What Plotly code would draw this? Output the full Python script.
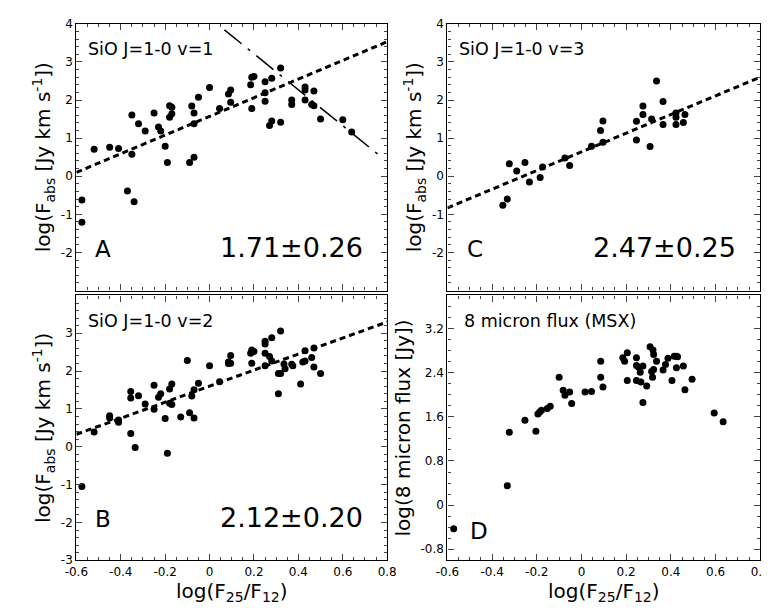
import plotly.graph_objects as go

ax_x = [-0.575,-0.575,-0.52,-0.45,-0.41,-0.35,-0.35,-0.37,-0.34,-0.32,-0.29,-0.25,-0.23,-0.22,-0.20,-0.19,-0.18,-0.18,-0.17,-0.17,
        -0.09,-0.07,-0.08,-0.07,-0.07,-0.05,0.0,0.045,0.085,0.095,0.095,0.185,0.19,0.20,0.19,0.25,0.25,0.25,0.28,0.28,0.27,0.32,0.32,
        0.37,0.37,0.43,0.43,0.43,0.46,0.47,0.47,0.50,0.60,0.64]
ay = [-0.62,-1.21,0.71,0.76,0.73,1.61,0.58,-0.39,-0.67,1.38,1.19,1.66,1.29,1.19,0.79,0.36,1.85,1.55,1.64,1.81,
      0.36,0.50,1.84,1.66,1.38,2.07,2.33,1.78,2.16,2.26,1.94,2.40,2.60,2.62,1.78,2.48,2.19,1.97,2.57,1.45,1.33,1.42,2.84,
      2.0,1.88,2.34,2.26,2.0,1.88,2.24,1.85,1.50,1.48,1.16]
a_fit_x = [-0.6, 0.8]; a_fit_y = [0.10, 3.53]
a_dash_x = [0.067, 0.762]; a_dash_y = [3.84, 0.56]

bx = [-0.575,-0.52,-0.45,-0.45,-0.41,-0.41,-0.355,-0.355,-0.355,-0.335,-0.32,-0.29,-0.25,-0.25,-0.23,-0.22,-0.2,-0.19,-0.18,-0.18,-0.17,-0.17,
      -0.13,-0.10,-0.09,-0.08,-0.07,-0.07,-0.05,0.0,0.045,0.085,0.085,0.095,0.095,0.185,0.19,0.20,0.19,0.25,0.25,0.25,0.25,0.28,0.27,0.28,
      0.31,0.32,0.31,0.32,0.335,0.34,0.37,0.375,0.41,0.42,0.43,0.43,0.46,0.47,0.47,0.50]
by = [-1.05,0.39,0.82,0.76,0.65,0.71,1.46,1.29,0.35,-0.02,1.35,1.13,1.63,0.99,1.31,1.40,0.75,-0.17,1.15,1.53,1.66,1.12,
      0.79,2.28,0.90,1.34,1.51,0.76,1.68,2.14,1.72,2.2,2.24,2.21,2.41,2.47,2.56,2.52,2.21,2.47,2.79,2.72,2.14,2.88,2.39,2.27,
      1.94,1.94,1.40,3.06,2.19,2.06,2.18,2.14,1.66,2.24,2.27,2.54,2.36,2.61,2.11,1.94]
b_fit_x = [-0.6, 0.8]; b_fit_y = [0.33, 3.30]

cx = [-0.352,-0.332,-0.323,-0.29,-0.253,-0.233,-0.185,-0.174,-0.074,-0.053,0.045,0.085,0.096,0.096,
      0.246,0.246,0.275,0.275,0.307,0.314,0.336,0.365,0.365,0.423,0.423,0.423,0.456,0.463]
cy = [-0.76,-0.60,0.33,0.14,0.36,-0.15,-0.03,0.24,0.48,0.28,0.79,1.20,1.45,0.89,
      0.95,1.44,1.84,1.62,0.78,1.50,2.50,1.96,1.36,1.66,1.55,1.36,1.41,1.62]
c_fit_x = [-0.6, 0.8]; c_fit_y = [-0.83, 2.60]

dx = [-0.572,-0.332,-0.323,-0.253,-0.204,-0.195,-0.187,-0.179,-0.153,-0.14,-0.10,-0.082,-0.074,-0.053,-0.044,
      0.016,0.045,0.086,0.086,0.096,0.185,0.193,0.205,0.205,0.246,0.246,0.246,0.256,0.263,0.266,0.275,0.275,0.292,
      0.307,0.314,0.318,0.32,0.323,0.323,0.336,0.365,0.376,0.387,0.405,0.415,0.425,0.425,0.43,0.456,0.463,0.495,0.594,0.634]
dy = [-0.43,0.35,1.32,1.54,1.34,1.65,1.69,1.72,1.75,1.79,2.32,2.08,1.99,2.05,1.84,
      2.05,2.06,2.32,2.61,2.14,2.67,2.61,2.76,2.26,2.67,2.53,2.26,2.50,2.41,2.23,2.52,1.86,2.16,
      2.87,2.42,2.32,2.81,2.73,2.46,2.61,2.45,2.55,2.66,2.26,2.70,2.70,2.49,2.69,2.52,2.09,2.28,1.67,1.51]

xticks = [-0.6,-0.4,-0.2,0,0.2,0.4,0.6,0.8]
xtick_text = ["-0.6","-0.4","-0.2","0","0.2","0.4","0.6","0.8"]

FONT = "DejaVu Sans"
fig = go.Figure()
mk = dict(color="black", size=7)
panels = [("x","y",ax_x,ay),("x2","y2",bx,by),("x3","y3",cx,cy),("x4","y4",dx,dy)]
for xa, ya, X, Y in panels:
    fig.add_trace(go.Scatter(x=X, y=Y, mode="markers", marker=mk, xaxis=xa, yaxis=ya, showlegend=False))
for xa, ya, FX, FY in [("x","y",a_fit_x,a_fit_y),("x2","y2",b_fit_x,b_fit_y),("x3","y3",c_fit_x,c_fit_y)]:
    fig.add_trace(go.Scatter(x=FX, y=FY, mode="lines", line=dict(color="black", width=3, dash="6px,4px"),
                             xaxis=xa, yaxis=ya, showlegend=False))
fig.add_trace(go.Scatter(x=a_dash_x, y=a_dash_y, mode="lines", line=dict(color="black", width=1.5, dash="22px,8px,3px,8px"),
                         xaxis="x", yaxis="y", showlegend=False))

def xax(dom, anchor, labels):
    return dict(domain=dom, anchor=anchor, range=[-0.6,0.8], tickvals=xticks, ticktext=xtick_text,
                showticklabels=labels, ticks="inside", ticklen=6, mirror="ticks", showline=True, linecolor="black",
                linewidth=1.2, showgrid=False, zeroline=False, tickfont=dict(size=12, family=FONT, color="black"),
                minor=dict(ticks="inside", ticklen=3, dtick=0.05, tick0=0),
                title=dict(text="log(F<sub>25</sub>/F<sub>12</sub>)", font=dict(size=20, family=FONT, color="black"), standoff=6) if labels else None)

def yax(dom, anchor, rng, tv, dt, title):
    return dict(domain=dom, anchor=anchor, range=rng, tickvals=tv, ticktext=[("%g" % v) for v in tv],
                ticks="inside", ticklen=6, mirror="ticks", showline=True, linecolor="black", linewidth=1.2,
                showgrid=False, zeroline=False, tickfont=dict(size=12, family=FONT, color="black"),
                minor=dict(ticks="inside", ticklen=3, dtick=dt, tick0=0),
                title=dict(text=title, font=dict(size=20, family=FONT, color="black"), standoff=4))

ytitle = "log(F<sub>abs</sub> [Jy km s<sup>-1</sup>])"
L = [58/770, 378/770]; R = [440/770, 762/770]
T = [1-282/615, 1-9/615]; B = [1-558/615, 1-287/615]
fig.update_layout(
    width=770, height=615, margin=dict(l=0, r=0, t=0, b=0),
    paper_bgcolor="white", plot_bgcolor="white", font=dict(family=FONT, color="black"),
    xaxis=xax(L, "y", False), yaxis=yax(T, "x", [-3,4], [4,3,2,1,0,-1,-2], 0.2, ytitle),
    xaxis2=xax(L, "y2", True), yaxis2=yax(B, "x2", [-3,4], [3,2,1,0,-1,-2,-3], 0.2, ytitle),
    xaxis3=xax(R, "y3", False), yaxis3=yax(T, "x3", [-3,4], [4,3,2,1,0,-1,-2], 0.2, ytitle),
    xaxis4=xax(R, "y4", True), yaxis4=yax(B, "x4", [-1,3.8], [3.2,2.4,1.6,0.8,0,-0.8], 0.2, "log(8 micron flux [Jy])"),
)
ann = []
def a(text, xref, yref, x, y, size, xanchor="left"):
    ann.append(dict(text=text, xref=xref+" domain", yref=yref+" domain", x=x, y=y, showarrow=False,
                    xanchor=xanchor, yanchor="middle", font=dict(size=size, family=FONT, color="black")))
for (xr, yr, lab, letter, val) in [("x","y","SiO J=1-0 v=1","A","1.71±0.26"),
                                   ("x2","y2","SiO J=1-0 v=2","B","2.12±0.20"),
                                   ("x3","y3","SiO J=1-0 v=3","C","2.47±0.25")]:
    a(lab, xr, yr, 0.03, 0.905, 17.5)
    a(letter, xr, yr, 0.055, 0.155, 23)
    a(val, xr, yr, 0.93, 0.16, 27, "right")
a("8 micron flux (MSX)", "x4", "y4", 0.045, 0.905, 17.5)
a("D", "x4", "y4", 0.065, 0.11, 23)
fig.update_layout(annotations=ann)
fig.write_html("out.html")
